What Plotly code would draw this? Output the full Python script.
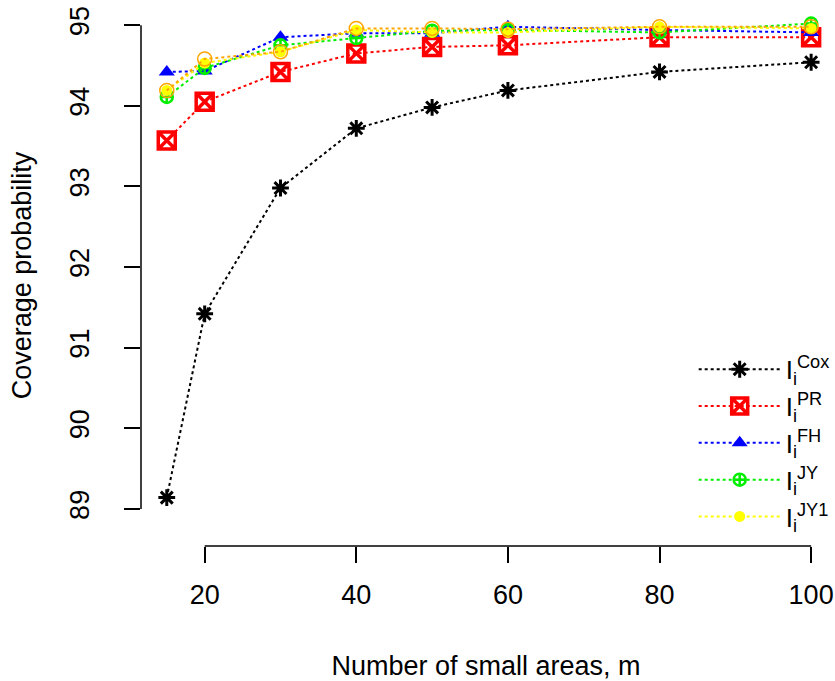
import plotly.graph_objects as go

m_values = [15, 20, 30, 40, 50, 60, 80, 100]
cox = [89.14, 91.42, 92.98, 93.72, 93.98, 94.19, 94.42, 94.54]
pr = [93.57, 94.05, 94.42, 94.65, 94.73, 94.75, 94.85, 94.85]
fh = [94.42, 94.43, 94.85, 94.90, 94.90, 94.98, 94.94, 94.91]
jy = [94.11, 94.47, 94.75, 94.84, 94.93, 94.94, 94.91, 95.02]
jy1 = [94.19, 94.53, 94.67, 94.94, 94.91, 94.91, 94.98, 94.96]
extra = [94.19, 94.58, 94.67, 94.96, 94.96, 94.95, 94.98, 94.98]

x_ticks = [20, 40, 60, 80, 100]
y_ticks = [89, 90, 91, 92, 93, 94, 95]

FONT = "Liberation Sans, Arial, sans-serif"

series = [
    ("I<sub>i</sub><sup>Cox</sup>", cox, "black", dict(symbol="asterisk-open", size=14, line=dict(width=3, color="black")), True),
    ("I<sub>i</sub><sup>PR</sup>", pr, "red", dict(symbol="square-x-open", size=17, line=dict(width=3.5, color="red")), True),
    ("I<sub>i</sub><sup>FH</sup>", fh, "blue", dict(symbol="triangle-up", size=14, color="blue", line=dict(width=0)), True),
    ("I<sub>i</sub><sup>JY</sup>", jy, "#00ee00", dict(symbol="circle-cross-open", size=12, line=dict(width=2.5, color="#00ee00")), True),
    ("I<sub>i</sub><sup>JY1</sup>", jy1, "#ffff00", dict(symbol="circle", size=11, color="#ffff00", line=dict(width=0)), True),
    ("extra", extra, "orange", dict(symbol="circle-open", size=14, line=dict(width=1.5, color="orange")), False),
]

fig = go.Figure()
for name, vals, col, mk, show in series:
    fig.add_trace(go.Scatter(
        x=m_values, y=vals, name=name, mode="lines+markers",
        line=dict(color=col, width=2, dash="3px,3px"),
        marker=mk, showlegend=show,
    ))

fig.add_shape(type="line", xref="paper", yref="y", x0=0, x1=0, y0=89, y1=95,
              line=dict(color="black", width=1.5))
fig.add_shape(type="line", xref="x", yref="paper", x0=20, x1=100, y0=0, y1=0,
              line=dict(color="black", width=1.5))

fig.update_layout(
    width=835, height=681,
    margin=dict(l=141, r=0, t=5, b=135),
    paper_bgcolor="white", plot_bgcolor="white",
    font=dict(family=FONT, size=27, color="black"),
    showlegend=True,
    legend=dict(x=0.801, y=0.37, xanchor="left", yanchor="top",
                font=dict(size=26, family=FONT), bgcolor="rgba(0,0,0,0)",
                tracegroupgap=0, itemwidth=82),
    xaxis=dict(range=[11.6, 102.62], tickvals=x_ticks, showgrid=False, zeroline=False,
               showline=False, ticks="outside", ticklen=16, tickwidth=1.5, tickcolor="black",
               tickfont=dict(size=27), ticklabelstandoff=9, ticklabeloverflow="allow",
               title=dict(text="Number of small areas, m", font=dict(size=27), standoff=48)),
    yaxis=dict(range=[88.54, 95.25], tickvals=y_ticks, showgrid=False, zeroline=False,
               showline=False, ticks="outside", ticklen=16, tickwidth=1.5, tickcolor="black",
               tickangle=-90, tickfont=dict(size=27), ticklabelstandoff=24,
               title=dict(text="Coverage probability", font=dict(size=27), standoff=25)),
)

fig.write_html("out.html")
